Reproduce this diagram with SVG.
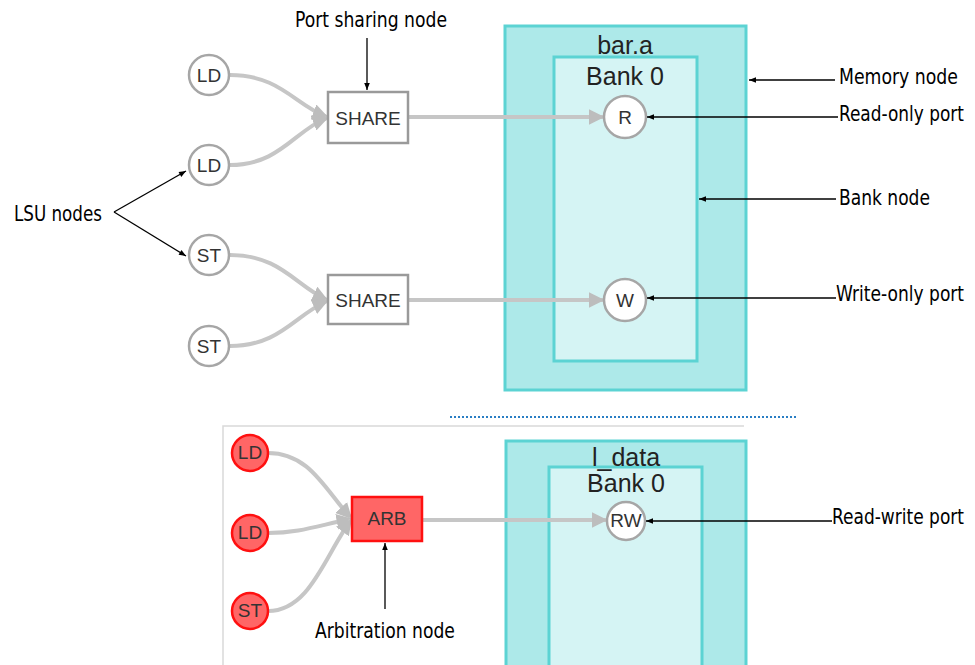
<svg xmlns="http://www.w3.org/2000/svg" width="975" height="665" viewBox="0 0 975 665">
  <defs>
    <marker id="grayHead" viewBox="0 0 10 10" refX="9" refY="5" markerWidth="4" markerHeight="4" orient="auto" markerUnits="strokeWidth">
      <path d="M0,0 L10,5 L0,10 z" fill="#bdbdbd"/>
    </marker>
    <marker id="blackHead" viewBox="0 0 10 10" refX="10" refY="5" markerWidth="9" markerHeight="7" orient="auto" markerUnits="userSpaceOnUse">
      <path d="M0,1 L10,5 L0,9 z" fill="#000"/>
    </marker>
  </defs>
  <style>
    .mem { fill: #ade9e9; stroke: #5cd3d3; stroke-width: 3; }
    .bank { fill: #d5f4f4; stroke: #5cd3d3; stroke-width: 3; }
    .port { fill: #ffffff; stroke: #a6a6a6; stroke-width: 2.5; }
    .lsu { fill: #ffffff; stroke: #a6a6a6; stroke-width: 2.5; }
    .share { fill: #ffffff; stroke: #9a9a9a; stroke-width: 2.5; }
    .red { fill: #ff6666; stroke: #ff1010; stroke-width: 2.5; }
    .nlabel { font-family: "Liberation Sans", Arial, sans-serif; font-size: 19px; fill: #333; text-anchor: middle; }
    .title { font-family: "Liberation Sans", Arial, sans-serif; font-size: 25px; fill: #222; text-anchor: middle; }
    .edge { fill: none; stroke: #c6c6c6; stroke-width: 4; marker-end: url(#grayHead); }
    .note { font-family: "Liberation Sans Narrow", "DejaVu Sans Condensed", "Liberation Sans", sans-serif; font-size: 22px; fill: #000; }
    .pointer { fill: none; stroke: #000; stroke-width: 1.3; marker-end: url(#blackHead); }
  </style>

  <!-- panel frame and separator -->
  <line x1="450" y1="417" x2="798" y2="417" stroke="#2a7ec4" stroke-width="2" stroke-dasharray="2,2"/>
  <polyline points="744,426 223,426 223,665" fill="none" stroke="#d9d9d9" stroke-width="1.5"/>

  <!-- memory containers (bank nested inside its memory) -->
  <g id="mem-bar-a">
    <rect class="mem" x="505" y="26" width="241" height="364"/>
    <g id="bank-bar-a">
      <rect class="bank" x="554" y="57" width="143" height="304"/>
      <text class="title" x="625" y="85" font-size="26">Bank 0</text>
    </g>
    <text class="title" x="625" y="54">bar.a</text>
  </g>
  <g id="mem-l-data">
    <rect class="mem" x="506" y="441" width="240" height="240"/>
    <g id="bank-l-data">
      <rect class="bank" x="549" y="467" width="153" height="220"/>
      <text class="title" x="626" y="492" font-size="23">Bank 0</text>
    </g>
    <text class="title" x="626" y="466" font-size="23">l_data</text>
  </g>

  <!-- connectors -->
  <g id="connectors">
    <path class="edge" d="M230,75 C280,75 295,105 327,117"/>
    <path class="edge" d="M230,165 C280,165 295,130 327,118"/>
    <path class="edge" d="M230,255 C280,255 295,285 327,300"/>
    <path class="edge" d="M230,346 C280,346 295,315 327,301"/>
    <path class="edge" d="M408,117 L603,117"/>
    <path class="edge" d="M408,300 L603,300"/>
    <path class="edge" d="M268,453 C310,453 325,490 351,518"/>
    <path class="edge" d="M268,533 C300,533 320,525 351,519"/>
    <path class="edge" d="M268,611 C310,611 325,555 351,520"/>
    <path class="edge" d="M422,520 L606,520"/>
  </g>

  <!-- ports -->
  <g id="port-r">
    <circle class="port" cx="625" cy="117" r="21"/>
    <text class="nlabel" x="625" y="124">R</text>
  </g>
  <g id="port-w">
    <circle class="port" cx="625" cy="300" r="21"/>
    <text class="nlabel" x="625" y="307">W</text>
  </g>
  <g id="port-rw">
    <circle class="port" cx="626" cy="521" r="19"/>
    <text class="nlabel" x="626" y="527" font-size="17">RW</text>
  </g>

  <!-- LSU nodes -->
  <g id="ld-1">
    <circle class="lsu" cx="209" cy="75" r="20"/>
    <text class="nlabel" x="209" y="82">LD</text>
  </g>
  <g id="ld-2">
    <circle class="lsu" cx="209" cy="165" r="20"/>
    <text class="nlabel" x="209" y="172">LD</text>
  </g>
  <g id="st-1">
    <circle class="lsu" cx="209" cy="255" r="20"/>
    <text class="nlabel" x="209" y="262">ST</text>
  </g>
  <g id="st-2">
    <circle class="lsu" cx="209" cy="346" r="20"/>
    <text class="nlabel" x="209" y="353">ST</text>
  </g>

  <!-- port sharing nodes -->
  <g id="share-ld">
    <rect class="share" x="328" y="92" width="80" height="51"/>
    <text class="nlabel" x="368" y="125">SHARE</text>
  </g>
  <g id="share-st">
    <rect class="share" x="328" y="275" width="80" height="49"/>
    <text class="nlabel" x="368" y="307">SHARE</text>
  </g>

  <!-- arbitrated LSU nodes -->
  <g id="ld-3">
    <circle class="red" cx="250" cy="453" r="18"/>
    <text class="nlabel" x="250" y="459" font-size="17">LD</text>
  </g>
  <g id="ld-4">
    <circle class="red" cx="250" cy="533" r="18"/>
    <text class="nlabel" x="250" y="539" font-size="17">LD</text>
  </g>
  <g id="st-3">
    <circle class="red" cx="250" cy="611" r="18"/>
    <text class="nlabel" x="250" y="617" font-size="17">ST</text>
  </g>
  <g id="arb">
    <rect class="red" x="352" y="497" width="70" height="44"/>
    <text class="nlabel" x="387" y="525" font-size="17">ARB</text>
  </g>

  <!-- callouts: condensed lettering via a horizontal squeeze -->
  <g id="callouts">
    <text class="note" transform="translate(295,27) scale(0.88,1)" textLength="172.7" lengthAdjust="spacingAndGlyphs">Port sharing node</text>
    <line class="pointer" x1="367" y1="38" x2="367" y2="90"/>

    <text class="note" transform="translate(839,84) scale(0.88,1)" textLength="135.2" lengthAdjust="spacingAndGlyphs">Memory node</text>
    <line class="pointer" x1="835" y1="80" x2="749" y2="80"/>

    <text class="note" transform="translate(839,121) scale(0.88,1)" textLength="142" lengthAdjust="spacingAndGlyphs">Read-only port</text>
    <line class="pointer" x1="838" y1="117" x2="647" y2="117"/>

    <text class="note" transform="translate(839,205) scale(0.88,1)" textLength="103.4" lengthAdjust="spacingAndGlyphs">Bank node</text>
    <line class="pointer" x1="836" y1="199" x2="699" y2="199"/>

    <text class="note" transform="translate(836,301) scale(0.88,1)" textLength="145.5" lengthAdjust="spacingAndGlyphs">Write-only port</text>
    <line class="pointer" x1="836" y1="298" x2="647" y2="298"/>

    <text class="note" transform="translate(14,221) scale(0.88,1)" textLength="100" lengthAdjust="spacingAndGlyphs">LSU nodes</text>
    <line class="pointer" x1="114" y1="212" x2="186" y2="171"/>
    <line class="pointer" x1="114" y1="212" x2="186" y2="256"/>

    <text class="note" transform="translate(832,524) scale(0.88,1)" textLength="150" lengthAdjust="spacingAndGlyphs">Read-write port</text>
    <line class="pointer" x1="832" y1="521" x2="646" y2="521"/>

    <text class="note" transform="translate(315,638) scale(0.88,1)" textLength="159" lengthAdjust="spacingAndGlyphs">Arbitration node</text>
    <line class="pointer" x1="385" y1="609" x2="385" y2="543"/>
  </g>
</svg>
